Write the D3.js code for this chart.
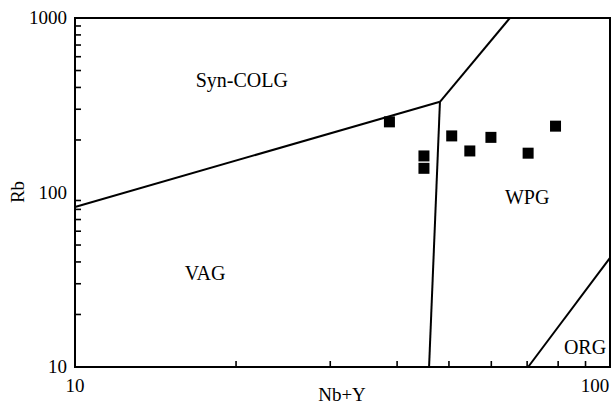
<!DOCTYPE html>
<html><head><meta charset="utf-8">
<script src="https://cdn.jsdelivr.net/npm/d3@7"></script>
<style>body{margin:0;background:#fff}text{font-family:"Liberation Serif","Times New Roman",serif;fill:#000}</style>
</head><body><svg id="c" width="612" height="405"></svg>
<script>
// Data
const nbY = [38.7, 44.9, 44.9, 50.6, 54.7, 59.9, 70.3, 79.1];
const rb  = [254, 162, 137.6, 211, 173, 207, 168, 240];
// Discrimination boundaries (Nb+Y, Rb)
const lineSynVag = [[10, 82.6], [48.1, 331]];
const lineSynWpg = [[48.1, 331], [65.0, 1000]];
const lineVagWpg = [[48.1, 331], [45.9, 10]];
const lineOrg = [[70.3, 10], [100, 42.2]];
const fields = [
  {name: "Syn-COLG", x: 20.5, y: 400},
  {name: "VAG", x: 17.5, y: 31.5},
  {name: "WPG", x: 70.0, y: 86},
  {name: "ORG", x: 89.8, y: 11.9}
];
const xTicks = [10, 100];
const yTicks = [10, 100, 1000];

const svg = d3.select("#c");
const L = 75, R = 610, T = 18, B = 367;
const x = d3.scaleLog().domain([10, 100]).range([L, R]);
const y = d3.scaleLog().domain([10, 1000]).range([B, T]);

// minor ticks (inward)
const xMinor = d3.range(20, 100, 10);
svg.append("g").selectAll("line").data(xMinor).join("line")
  .attr("x1", d => x(d)).attr("x2", d => x(d)).attr("y1", B).attr("y2", B - 6)
  .attr("stroke", "#000").attr("stroke-width", 1.6);
const yMinor = d3.range(20, 100, 10).concat(d3.range(200, 1000, 100));
svg.append("g").selectAll("line").data(yMinor).join("line")
  .attr("x1", L).attr("x2", L + 6).attr("y1", d => y(d)).attr("y2", d => y(d))
  .attr("stroke", "#000").attr("stroke-width", 1.6);

// frame
svg.append("rect").attr("x", L).attr("y", T).attr("width", R - L).attr("height", B - T)
  .attr("fill", "none").attr("stroke", "#000").attr("stroke-width", 2);

// tick labels
svg.append("g").selectAll("text").data(yTicks).join("text")
  .attr("x", L - 8).attr("y", d => y(d) + 6).attr("text-anchor", "end")
  .attr("font-size", 19).text(d => d);
svg.append("g").selectAll("text").data(xTicks).join("text")
  .attr("x", (d, i) => x(d) - (i === xTicks.length - 1 ? 15 : 0)).attr("y", 392)
  .attr("text-anchor", "middle").attr("font-size", 19).text(d => d);

// boundary lines
const ln = d3.line().x(d => x(d[0])).y(d => y(d[1]));
[lineSynVag, lineSynWpg, lineVagWpg, lineOrg].forEach(p => {
  svg.append("path").attr("d", ln(p)).attr("fill", "none")
    .attr("stroke", "#000").attr("stroke-width", 2);
});

// field labels
svg.append("g").selectAll("text").data(fields).join("text")
  .attr("x", d => x(d.x)).attr("y", d => y(d.y)).attr("text-anchor", "middle")
  .attr("font-size", 20).text(d => d.name);

// points
const s = 11;
svg.append("g").selectAll("rect").data(nbY.map((v, i) => [v, rb[i]])).join("rect")
  .attr("x", d => x(d[0]) - s / 2).attr("y", d => y(d[1]) - s / 2)
  .attr("width", s).attr("height", s).attr("fill", "#000");

// axis titles
svg.append("text").attr("x", 342).attr("y", 401).attr("text-anchor", "middle")
  .attr("font-size", 19).text("Nb+Y");
svg.append("text").attr("transform", "translate(24,192) rotate(-90)")
  .attr("text-anchor", "middle").attr("font-size", 19).text("Rb");
</script></body></html>
